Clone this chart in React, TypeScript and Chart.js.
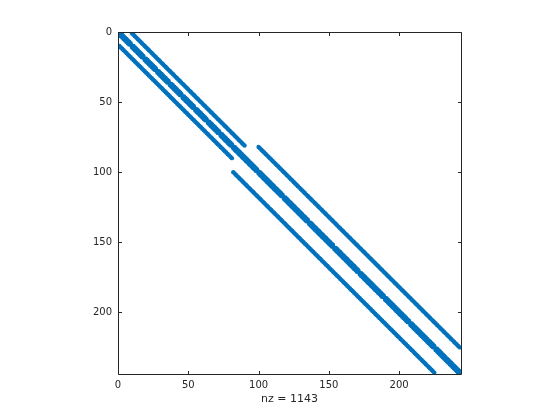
import React, { useEffect, useRef } from "react";
import { Chart, registerables } from "chart.js";

Chart.register(...registerables);

// Sparsity pattern of a symmetric 243x243 matrix (1-based indices, MATLAB spy style)
const matrixSize = 243;
// Upper-triangle diagonal segments: offset (col - row), first row, last row
const segOffsets = [1, 9, 18];
const segFirstRow = [1, 1, 82];
const segLastRow = [242, 81, 225];
// Rows where the +1 / -1 coupling is absent
const gapRowsOffset1 = [9, 18, 27, 36, 45, 54, 63, 72, 81, 99, 117, 135, 153, 171, 189, 207, 225];
const xTicks = [0, 50, 100, 150, 200];
const yTicks = [0, 50, 100, 150, 200];
const axisMax = matrixSize + 1;
const nzCount = 1143;

function buildPoints() {
  const pts: { x: number; y: number }[] = [];
  for (let i = 1; i <= matrixSize; i++) pts.push({ x: i, y: i });
  for (let s = 0; s < segOffsets.length; s++) {
    const off = segOffsets[s];
    for (let r = segFirstRow[s]; r <= segLastRow[s]; r++) {
      if (off === 1 && gapRowsOffset1.includes(r)) continue;
      pts.push({ x: r + off, y: r });
      pts.push({ x: r, y: r + off });
    }
  }
  return pts;
}

const axisColor = "#262626";

const boxPlugin = {
  id: "matlabBox",
  afterDraw(chart: any) {
    const { ctx, chartArea } = chart;
    const { left, right, top, bottom } = chartArea;
    const xs = chart.scales.x;
    const ys = chart.scales.y;
    const tl = 3.5;
    ctx.save();
    ctx.strokeStyle = axisColor;
    ctx.lineWidth = 1;
    ctx.beginPath();
    const L = Math.round(left) + 0.5;
    const R = Math.round(right) + 0.5;
    const T = Math.round(top) + 0.5;
    const B = Math.round(bottom) + 0.5;
    ctx.rect(L, T, R - L, B - T);
    for (const v of xTicks) {
      const px = Math.round(xs.getPixelForValue(v)) + 0.5;
      ctx.moveTo(px, B);
      ctx.lineTo(px, B - tl);
      ctx.moveTo(px, T);
      ctx.lineTo(px, T + tl);
    }
    for (const v of yTicks) {
      const py = Math.round(ys.getPixelForValue(v)) + 0.5;
      ctx.moveTo(L, py);
      ctx.lineTo(L + tl, py);
      ctx.moveTo(R, py);
      ctx.lineTo(R - tl, py);
    }
    ctx.stroke();
    ctx.restore();
  },
};

export default function App() {
  const ref = useRef<HTMLCanvasElement | null>(null);
  useEffect(() => {
    if (!ref.current) return;
    const points = buildPoints();
    const chart = new Chart(ref.current, {
      type: "scatter",
      data: {
        datasets: [
          {
            data: points,
            backgroundColor: "#0072BD",
            borderWidth: 0,
            pointRadius: 2.2,
            pointHoverRadius: 2.2,
            pointStyle: "circle",
          },
        ],
      },
      options: {
        animation: false,
        responsive: false,
        devicePixelRatio: 1,
        events: [],
        layout: { padding: { left: 0, right: 99, top: 32, bottom: 0 } },
        plugins: { legend: { display: false }, tooltip: { enabled: false } },
        scales: {
          x: {
            type: "linear",
            position: "bottom",
            min: 0,
            max: axisMax,
            afterFit: (s: any) => {
              s.height = 46;
            },
            afterBuildTicks: (s: any) => {
              s.ticks = xTicks.map((v) => ({ value: v }));
            },
            grid: { display: false, drawTicks: false },
            border: { display: false },
            ticks: {
              padding: 5,
              color: axisColor,
              font: { family: "DejaVu Sans", size: 10 },
              maxRotation: 0,
            },
            title: {
              display: true,
              text: "nz = " + nzCount,
              color: axisColor,
              font: { family: "DejaVu Sans", size: 11 },
              padding: { top: 0, bottom: 14 },
            },
          },
          y: {
            type: "linear",
            reverse: true,
            min: 0,
            max: axisMax,
            afterFit: (s: any) => {
              s.width = 118;
            },
            afterBuildTicks: (s: any) => {
              s.ticks = yTicks.map((v) => ({ value: v }));
            },
            grid: { display: false, drawTicks: false },
            border: { display: false },
            ticks: {
              padding: 6,
              color: axisColor,
              font: { family: "DejaVu Sans", size: 10 },
            },
          },
        },
      },
      plugins: [boxPlugin],
    });
    return () => chart.destroy();
  }, []);
  return (
    <div style={{ position: "fixed", left: 0, top: 0, width: 560, height: 420, background: "#fff" }}>
      <canvas ref={ref} width={560} height={420} style={{ width: 560, height: 420 }} />
    </div>
  );
}
